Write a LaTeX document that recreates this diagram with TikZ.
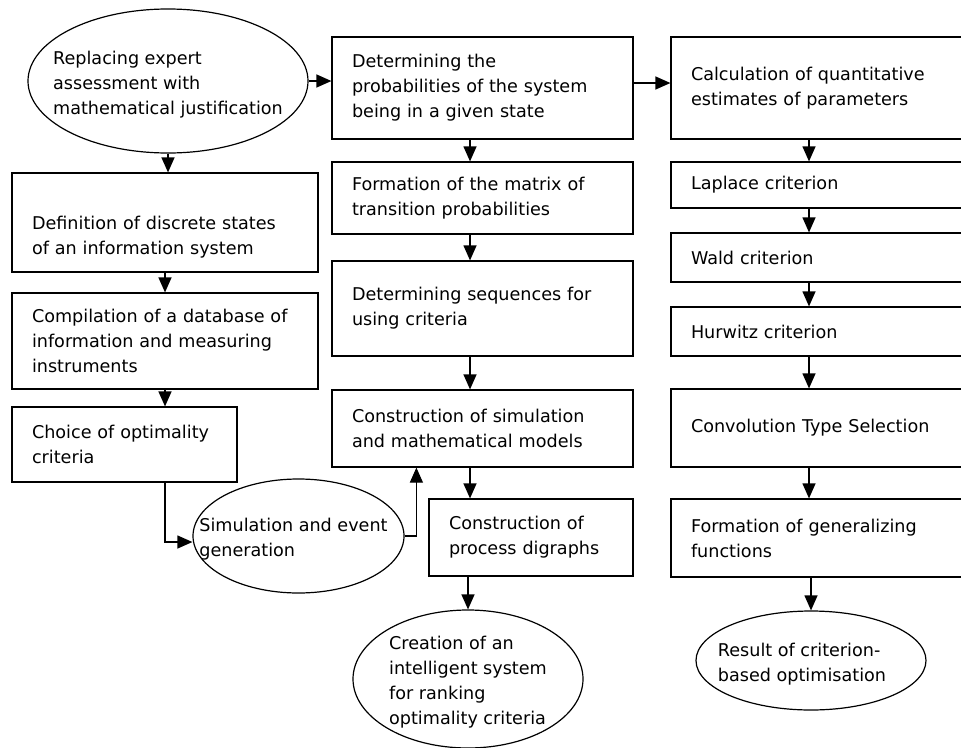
\documentclass[tikz,border=0pt]{standalone}
\usepackage{fontspec}
\setmainfont{DejaVu Sans}
\usetikzlibrary{shapes.geometric,arrows.meta}
\newcommand{\ovaltext}[2][0pt]{\makebox[0pt]{\raisebox{-15pt}{\smash{\begin{tabular}[c]{@{}l@{}}#2\end{tabular}}}\hspace*{#1}}}
\tikzset{
	stagebox/.style={draw=black, line width=1.2pt, solid, rectangle, inner sep=0pt, align=left, font=\fontsize{17.6}{25}\selectfont},
	stageoval/.style={draw=black, line width=1.2pt, solid, ellipse, inner sep=0pt, font=\fontsize{17.6}{25}\selectfont},
	flow/.style={draw=black, line width=1.2pt, -{Triangle[length=15pt,width=13pt]}}
}
\begin{document}
\begin{tikzpicture}[x=1pt, y=-1pt]
		\clip (0,0) rectangle (961,747);
		\node[stageoval, minimum width=280pt, minimum height=144pt] (replace) at (168,81) {\ovaltext{Replacing expert\\assessment with\\mathematical justification}};
		\node[stagebox, minimum width=306pt, minimum height=99pt, text width=266pt] (defn) at (165,222.5) {\rule{0pt}{43pt}Definition of discrete states\\of an information system};
		\node[stagebox, minimum width=306pt, minimum height=96pt, text width=266pt] (compile) at (165,341) {Compilation of a database of\\information and measuring\\instruments};
		\node[stagebox, minimum width=225pt, minimum height=75pt, text width=185pt] (choice) at (124.5,444.5) {Choice of optimality\\criteria};
		\node[stageoval, minimum width=211pt, minimum height=114pt] (sim) at (298.5,536) {\ovaltext[10pt]{Simulation and event\\generation}};
		\node[stagebox, minimum width=301pt, minimum height=102pt, text width=261pt] (prob) at (482.5,88) {Determining the\\probabilities of the system\\being in a given state};
		\node[stagebox, minimum width=301pt, minimum height=72pt, text width=261pt] (matrix) at (482.5,198) {Formation of the matrix of\\transition probabilities};
		\node[stagebox, minimum width=301pt, minimum height=95pt, text width=261pt] (seq) at (482.5,308.5) {Determining sequences for\\using criteria};
		\node[stagebox, minimum width=301pt, minimum height=77pt, text width=261pt] (models) at (482.5,428.5) {Construction of simulation\\and mathematical models};
		\node[stagebox, minimum width=204pt, minimum height=77pt, text width=164pt] (digraph) at (531,537.5) {Construction of\\process digraphs};
		\node[stageoval, minimum width=230pt, minimum height=138pt] (creation) at (468,679) {\ovaltext{Creation of an\\intelligent system\\for ranking\\optimality criteria}};
		\node[stagebox, minimum width=294pt, minimum height=102pt, text width=254pt] (calc) at (818,88) {Calculation of quantitative\\estimates of parameters};
		\node[stagebox, minimum width=294pt, minimum height=46pt, text width=254pt] (laplace) at (818,185) {Laplace criterion};
		\node[stagebox, minimum width=294pt, minimum height=49pt, text width=254pt] (wald) at (818,257.5) {Wald criterion};
		\node[stagebox, minimum width=294pt, minimum height=49pt, text width=254pt] (hurwitz) at (818,331.5) {Hurwitz criterion};
		\node[stagebox, minimum width=294pt, minimum height=78pt, text width=254pt] (conv) at (818,428) {Convolution Type Selection};
		\node[stagebox, minimum width=294pt, minimum height=78pt, text width=254pt] (general) at (818,538) {Formation of generalizing\\functions};
		\node[stageoval, minimum width=230pt, minimum height=99pt] (result) at (811,660.5) {\ovaltext[18pt]{Result of criterion-\\based optimisation}};
		\draw[flow] (replace.east) -- (replace.east -| prob.west);
		\draw[flow] ([yshift=5pt]prob.east) -- ([yshift=5pt]calc.west);
		\draw[flow] (replace.south) -- (replace.south |- defn.north);
		\draw[flow] (defn.south) -- (compile.north);
		\draw[flow] (compile.south) -- (compile.south |- choice.north);
		\draw[flow] (choice.south -| compile.south) |- ([yshift=-6pt]sim.west);
		\draw[flow] (sim.east) -| ([xshift=85pt]models.south west);
		\draw[flow] ([xshift=-12.5pt]prob.south) -- ([xshift=-12.5pt]matrix.north);
		\draw[flow] ([xshift=-12.5pt]matrix.south) -- ([xshift=-12.5pt]seq.north);
		\draw[flow] ([xshift=-12.5pt]seq.south) -- ([xshift=-12.5pt]models.north);
		\draw[flow] ([xshift=-12.5pt]models.south) -- ([xshift=-12.5pt]models.south |- digraph.north);
		\draw[flow] (creation.north |- digraph.south) -- (creation.north);
		\draw[flow] ([xshift=-9pt]calc.south) -- ([xshift=-9pt]laplace.north);
		\draw[flow] ([xshift=-9pt]laplace.south) -- ([xshift=-9pt]wald.north);
		\draw[flow] ([xshift=-9pt]wald.south) -- ([xshift=-9pt]hurwitz.north);
		\draw[flow] ([xshift=-9pt]hurwitz.south) -- ([xshift=-9pt]conv.north);
		\draw[flow] ([xshift=-9pt]conv.south) -- ([xshift=-9pt]general.north);
		\draw[flow] (result.north |- general.south) -- (result.north);
	\end{tikzpicture}
\end{document}
